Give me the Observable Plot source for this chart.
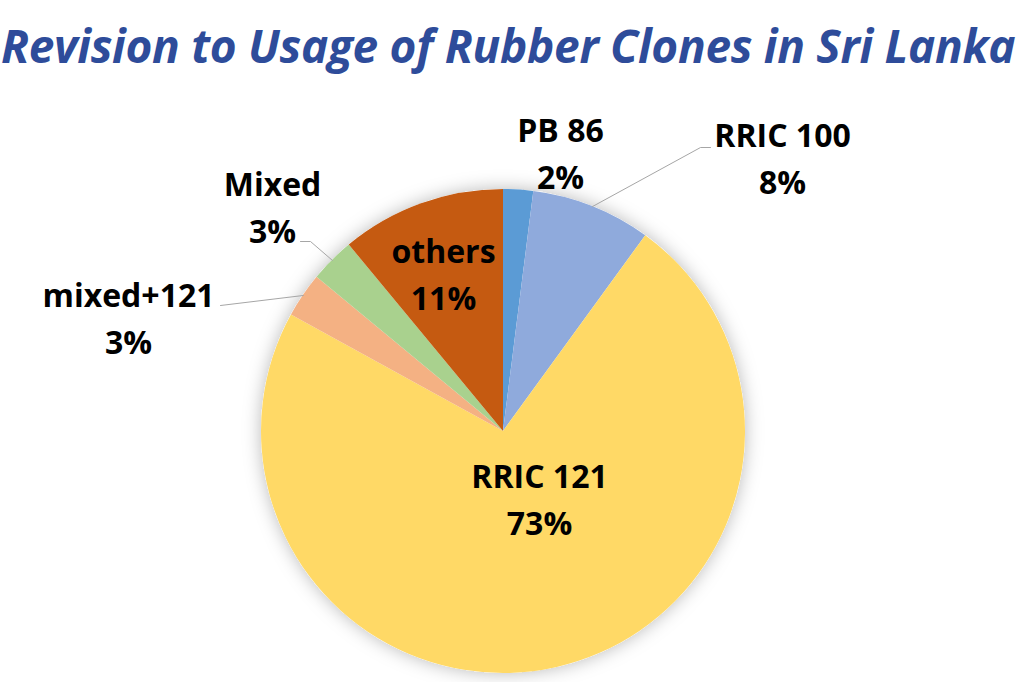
<!DOCTYPE html>
<html>
<head>
<meta charset="utf-8">
<script src="https://cdn.jsdelivr.net/npm/d3@7"></script>
<script src="https://cdn.jsdelivr.net/npm/@observablehq/plot@0.6"></script>
<style>
  html, body { margin: 0; padding: 0; background: #fff; }
  body { width: 1024px; height: 682px; overflow: hidden; position: relative; }
  #title {
    position: absolute; left: 1px; top: 15px; white-space: nowrap;
    font-family: "Open Sans", sans-serif; font-weight: 700; font-style: italic;
    font-size: 46px; line-height: 60px; letter-spacing: -0.3px; color: #2E4C9A;
  }
  #chart { position: absolute; left: 0; top: 90px; }
</style>
</head>
<body>
<div id="title">Revision to Usage of Rubber Clones in Sri Lanka</div>
<div id="chart"></div>
<script>
// ---- data ----
const categories = ["PB 86", "RRIC 100", "RRIC 121", "mixed+121", "Mixed", "others"];
const shares = [2, 8, 73, 3, 3, 11];
const percentLabels = ["2%", "8%", "73%", "3%", "3%", "11%"];
const colors = ["#5B9BD5", "#8FAADC", "#FFD966", "#F4B183", "#A9D18E", "#C55A11"];

// ---- layout (styling / placement, not data) ----
const W = 1024, H = 592;
const center = [503, 341], radius = 242;
const labelPos = {
  "PB 86": [560, 60],
  "RRIC 100": [782, 65],
  "RRIC 121": [539, 406],
  "mixed+121": [128, 225],
  "Mixed": [272, 114],
  "others": [443, 181]
};
const leaderBends = {
  "RRIC 100": [[700, 57], [710, 57]],
  "Mixed": [[310, 151], [300, 151]],
  "mixed+121": [[220, 215]]
};

const pieGen = d3.pie().sort(null).value(d => d.value);
const table = categories.map((c, i) => ({ name: c, value: shares[i], pct: percentLabels[i], color: colors[i] }));
const arcs = pieGen(table);

const labels = arcs.map(a => ({
  text: a.data.name + "\n" + a.data.pct,
  x: labelPos[a.data.name][0], y: labelPos[a.data.name][1]
}));

const leaders = [];
arcs.forEach(a => {
  const bends = leaderBends[a.data.name];
  if (!bends) return;
  const m = (a.startAngle + a.endAngle) / 2;
  leaders.push({ k: a.data.name, x: center[0] + radius * Math.sin(m), y: center[1] - radius * Math.cos(m) });
  bends.forEach(b => leaders.push({ k: a.data.name, x: b[0], y: b[1] }));
});

function pieMark(index, scales, values, dimensions, context) {
  const g = d3.create("svg:g");
  const defs = g.append("defs");
  const f = defs.append("filter").attr("id", "pieShadow")
    .attr("x", "-20%").attr("y", "-20%").attr("width", "140%").attr("height", "140%");
  f.append("feDropShadow").attr("dx", 0).attr("dy", 0).attr("stdDeviation", 9)
    .attr("flood-color", "#000").attr("flood-opacity", 0.28);
  const cx = scales.x(center[0]), cy = scales.y(center[1]);
  const r = scales.x(center[0] + radius) - cx;
  const arcGen = d3.arc().innerRadius(0).outerRadius(r);
  const pg = g.append("g").attr("transform", `translate(${cx},${cy})`);
  pg.append("circle").attr("r", r).attr("fill", "#fff").attr("filter", "url(#pieShadow)");
  pg.selectAll("path").data(arcs).join("path")
    .attr("d", arcGen).attr("fill", d => d.data.color);
  return g.node();
}

const chart = Plot.plot({
  width: W, height: H,
  margin: 0,
  x: { domain: [0, W], range: [0, W], axis: null },
  y: { domain: [0, H], range: [0, H], axis: null },
  style: { background: "transparent", overflow: "visible" },
  marks: [
    pieMark,
    Plot.line(leaders, { x: "x", y: "y", z: "k", stroke: "#A6A6A6", strokeWidth: 1 }),
    Plot.text(labels, {
      x: "x", y: "y", text: "text", lineAnchor: "middle", lineHeight: 1.47,
      fontFamily: "Open Sans", fontWeight: 700, fontSize: 32, fill: "#000"
    })
  ]
});
document.getElementById("chart").appendChild(chart);
</script>
</body>
</html>
